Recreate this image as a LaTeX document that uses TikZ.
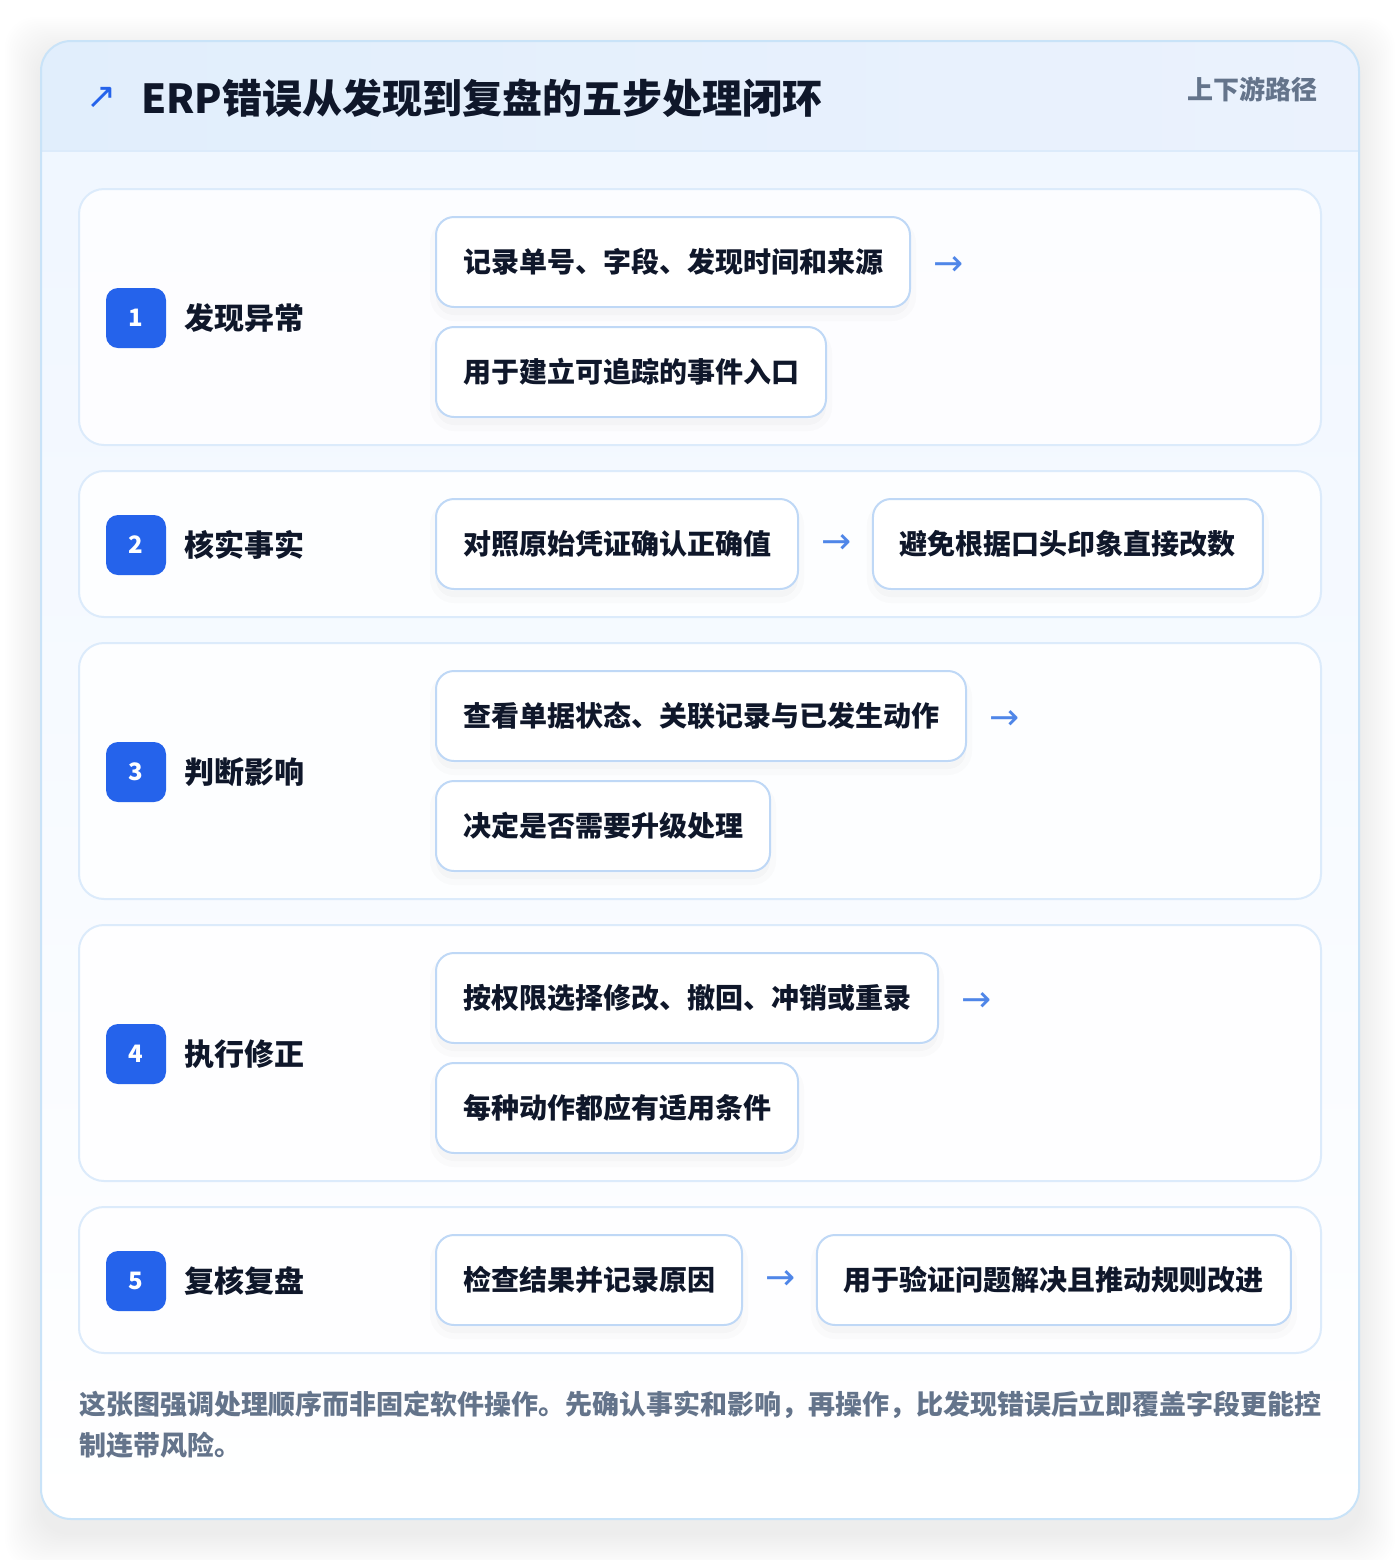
\documentclass[tikz,border=0pt]{standalone}
\usepackage{fontspec}
\setmainfont{Noto Sans CJK SC}
\newfontfamily\symfont{DejaVu Sans}
\usetikzlibrary{positioning}
\definecolor{badgeblue}{HTML}{2563EB}
\definecolor{inkdark}{HTML}{0F172A}
\definecolor{inkgray}{HTML}{64748B}
\definecolor{cardline}{HTML}{C9E3F8}
\definecolor{panelline}{HTML}{DCEBFB}
\definecolor{itemline}{HTML}{BFD8F6}
\definecolor{flowblue}{HTML}{4F86E8}
\definecolor{headleft}{HTML}{E1EEFC}
\definecolor{headright}{HTML}{EBF2FD}
\definecolor{bodytop}{HTML}{EFF6FF}

\begin{document}
\begin{tikzpicture}[x=0.5pt, y=-0.5pt]
        \tikzstyle{every node}=[font=\bfseries]
        \tikzstyle{panel}=[draw=panelline, line width=1pt, fill=white, fill opacity=0.85, rounded corners=12.5pt]
        \tikzstyle{badge}=[fill=badgeblue, text=white, rounded corners=6pt, minimum size=30pt, inner sep=0pt, font=\bfseries\fontsize{12}{12}\selectfont]
        \tikzstyle{steplabel}=[right=9pt of #1, inner sep=0pt, text=inkdark, font=\bfseries\fontsize{15}{15}\selectfont]
        \tikzstyle{item}=[draw=itemline, line width=1pt, fill=white, rounded corners=9pt, minimum height=45pt, inner xsep=13.5pt, anchor=west, text=inkdark, font=\bfseries\fontsize{14}{14}\selectfont,
            preaction={draw=black, draw opacity=0.015, line width=6pt, fill=black, fill opacity=0.02, transform canvas={yshift=-4pt}}]
        \tikzstyle{flow}=[inner sep=0pt, text=flowblue, font=\symfont\fontsize{18}{18}\selectfont]

% Five-step closed loop for handling ERP errors.

        \useasboundingbox (0,0) rectangle (1400,1560);
        \fill[white] (0,0) rectangle (1400,1560);
        \foreach \d in {2,4,...,36}
            \fill[black, opacity=0.0035, rounded corners=15pt] (41-\d,53-\d) rectangle (1359+\d,1533+\d);
        \shade[top color=bodytop, bottom color=white, rounded corners=15pt] (41,41) rectangle (1359,1519);
        \begin{scope}
            \clip[rounded corners=15pt] (41,41) rectangle (1359,1519);
            \shade[left color=headleft, right color=headright] (41,41) rectangle (1359,151);
            \draw[panelline, line width=1pt] (41,151) -- (1359,151);
        \end{scope}
        \draw[cardline, line width=1pt, rounded corners=15pt] (41,41) rectangle (1359,1519);

        \node[inner sep=0pt, text=badgeblue, font=\symfont\fontsize{18}{18}\selectfont] (mark) at (102,98) {↗};
        \node[anchor=west, inner sep=0pt, text=inkdark, font=\bfseries\fontsize{20}{20}\selectfont] (title) at (141,98) {ERP错误从发现到复盘的五步处理闭环};
        \node[anchor=east, inner sep=0pt, text=inkgray, font=\bfseries\fontsize{13}{13}\selectfont] (route) at (1318,89) {上下游路径};

        \draw[panel] (79,189) rectangle (1321,445);
        \draw[panel] (79,471) rectangle (1321,617);
        \draw[panel] (79,643) rectangle (1321,899);
        \draw[panel] (79,925) rectangle (1321,1181);
        \draw[panel] (79,1207) rectangle (1321,1353);

        \node[badge] (b1) at (136,318) {1};
        \node[steplabel=b1] (s1) {发现异常};
        \node[item] (i1a) at (435,262) {记录单号、字段、发现时间和来源};
        \node[item] (i1b) at (435,372) {用于建立可追踪的事件入口};
        \node[flow, right=11pt of i1a, yshift=-2pt] (f1) {→};

        \node[badge] (b2) at (136,545) {2};
        \node[steplabel=b2] (s2) {核实事实};
        \node[item] (i2a) at (435,544) {对照原始凭证确认正确值};
        \node[flow, right=11pt of i2a] (f2) {→};
        \node[item, right=10pt of f2] (i2b) {避免根据口头印象直接改数};

        \node[badge] (b3) at (136,772) {3};
        \node[steplabel=b3] (s3) {判断影响};
        \node[item] (i3a) at (435,716) {查看单据状态、关联记录与已发生动作};
        \node[item] (i3b) at (435,826) {决定是否需要升级处理};
        \node[flow, right=11pt of i3a, yshift=-2pt] (f3) {→};

        \node[badge] (b4) at (136,1054) {4};
        \node[steplabel=b4] (s4) {执行修正};
        \node[item] (i4a) at (435,998) {按权限选择修改、撤回、冲销或重录};
        \node[item] (i4b) at (435,1108) {每种动作都应有适用条件};
        \node[flow, right=11pt of i4a, yshift=-2pt] (f4) {→};

        \node[badge] (b5) at (136,1281) {5};
        \node[steplabel=b5] (s5) {复核复盘};
        \node[item] (i5a) at (435,1280) {检查结果并记录原因};
        \node[flow, right=11pt of i5a] (f5) {→};
        \node[item, right=10pt of f5] (i5b) {用于验证问题解决且推动规则改进};

        \node[anchor=north west, inner sep=0pt, align=left, text=inkgray, font=\bfseries\fontsize{13.5}{20.5}\selectfont] (note) at (79,1391) {这张图强调处理顺序而非固定软件操作。先确认事实和影响，再操作，比发现错误后立即覆盖字段更能控\\制连带风险。};

    \end{tikzpicture}
\end{document}
